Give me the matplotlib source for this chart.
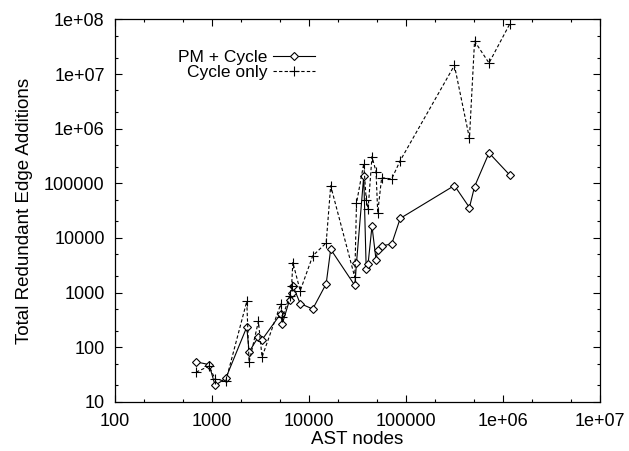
import matplotlib
matplotlib.use("Agg")
import matplotlib.pyplot as plt
from matplotlib.ticker import LogLocator, FixedLocator, NullFormatter

# AST node counts (x) shared by both series
ast_nodes = [684, 931, 1074, 1384, 2278, 2405, 3003, 3273, 5100, 5300,
             6300, 6600, 6800, 8100, 10900, 15000, 16700, 29600, 30800,
             36600, 38800, 40600, 44500, 49000, 51000, 56000, 71000,
             87000, 315000, 450000, 508000, 716000, 1170000]

# Total redundant edge additions, PM + Cycle
pm_cycle = [54, 48, 20, 27, 234, 82, 155, 137, 410, 270,
            740, 1000, 1340, 630, 500, 1450, 6200, 1350, 3450,
            136000, 2700, 3400, 16400, 4000, 6000, 7200, 7700,
            22800, 91000, 36000, 87000, 360000, 142000]

# Total redundant edge additions, Cycle only
cycle_only = [35, 45, 26, 24, 690, 53, 296, 66, 616, 350,
              860, 1300, 3550, 1080, 4700, 8100, 90000, 1900, 43000,
              229000, 50000, 34000, 307000, 164000, 29000, 127000, 120000,
              260000, 14400000, 667000, 40000000, 15900000, 82000000]

plt.rcParams["font.family"] = ["Liberation Sans", "DejaVu Sans"]

fig = plt.figure(figsize=(6.29, 4.51), dpi=100)
ax = fig.add_axes([0.183, 0.109, 0.771, 0.848])

ax.plot(ast_nodes, pm_cycle, color="black", linewidth=0.8, marker="D",
        markersize=4.5, markerfacecolor="white", markeredgewidth=0.8,
        label="PM + Cycle")
ax.plot(ast_nodes, cycle_only, color="black", linewidth=0.8, linestyle=(0, (3, 2)),
        marker="+", markersize=6.5, markeredgewidth=0.8, label="Cycle only")

ax.set_xscale("log")
ax.set_yscale("log")
ax.set_xlim(100, 1e7)
ax.set_ylim(10, 1e8)

xt = [100, 1000, 10000, 100000, 1e6, 1e7]
xl = ["100", "1000", "10000", "100000", "1e+06", "1e+07"]
yt = [10, 100, 1000, 10000, 100000, 1e6, 1e7, 1e8]
yl = ["10", "100", "1000", "10000", "100000", "1e+06", "1e+07", "1e+08"]
ax.xaxis.set_major_locator(FixedLocator(xt))
ax.set_xticklabels(xl)
ax.yaxis.set_major_locator(FixedLocator(yt))
ax.set_yticklabels(yl)
ax.xaxis.set_minor_locator(LogLocator(base=10, subs=(2, 5)))
ax.yaxis.set_minor_locator(LogLocator(base=10, subs=(2, 5)))
ax.xaxis.set_minor_formatter(NullFormatter())
ax.yaxis.set_minor_formatter(NullFormatter())

ax.tick_params(which="both", direction="in", top=True, right=True,
               labelsize=13, width=0.8)
ax.tick_params(which="major", length=5)
ax.tick_params(which="minor", length=2.5)
ax.tick_params(axis="x", which="major", pad=8)
ax.tick_params(axis="y", which="major", pad=7.5)
for s in ax.spines.values():
    s.set_linewidth(0.9)

ax.set_xlabel("AST nodes", fontsize=13.5, labelpad=1)
ax.set_ylabel("Total Redundant Edge Additions", fontsize=13.5, labelpad=8)

ax.legend(loc="upper right", bbox_to_anchor=(0.412, 0.92), frameon=False,
          markerfirst=False, fontsize=12.5, handlelength=2.4, handletextpad=0.35,
          labelspacing=0.0, borderaxespad=0, borderpad=0)

fig.savefig("out.png", dpi=100)
